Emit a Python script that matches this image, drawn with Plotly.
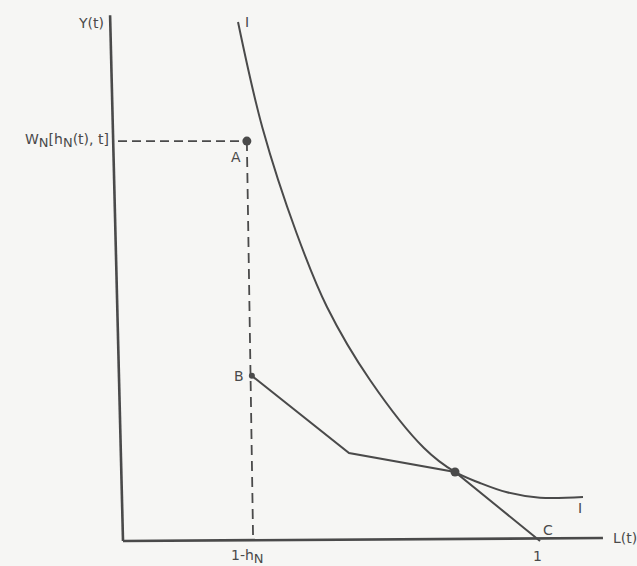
import plotly.graph_objects as go

# Indifference curve I
curve_x = [0.2758, 0.3345, 0.4161, 0.4892, 0.5923, 0.7218, 0.7962, 0.8561, 0.9209, 1.0000, 1.1031]
curve_y = [1.2446, 0.9904, 0.7386, 0.5612, 0.3861, 0.2230, 0.1655, 0.1391, 0.1168, 0.1038, 0.1055]

# Budget constraint B -> kink -> tangency -> C
budget_x = [0.309, 0.542, 0.7962, 1.000]
budget_y = [0.396, 0.211, 0.1655, 0.000]

# Point A and its dashed projections
A_x, A_y = 0.297, 0.959
foot_x = 0.312          # 1-h_N on the L axis
yaxis_at_A = -0.012

# Axes (slightly tilted as in the scan)
yaxis_line_x = [0.0, -0.031]
yaxis_line_y = [0.0, 1.261]
xaxis_line_x = [0.0, 1.151]
xaxis_line_y = [0.0, 0.007]

ink = "#4a4a4a"
bg = "#f6f6f4"
font = "DejaVu Sans, Liberation Sans, sans-serif"

fig = go.Figure()

# axes
fig.add_trace(go.Scatter(x=yaxis_line_x, y=yaxis_line_y, mode="lines",
                         line=dict(color=ink, width=2.6), hoverinfo="skip"))
fig.add_trace(go.Scatter(x=xaxis_line_x, y=xaxis_line_y, mode="lines",
                         line=dict(color=ink, width=2.6), hoverinfo="skip"))

# dashed lines
fig.add_trace(go.Scatter(x=[yaxis_at_A, A_x], y=[A_y, A_y], mode="lines",
                         line=dict(color=ink, width=1.8, dash="9px,5px"), hoverinfo="skip"))
fig.add_trace(go.Scatter(x=[A_x, foot_x], y=[A_y, 0.0], mode="lines",
                         line=dict(color=ink, width=1.8, dash="10px,6px"), hoverinfo="skip"))

# indifference curve
fig.add_trace(go.Scatter(x=curve_x, y=curve_y, mode="lines", line_shape="spline",
                         line=dict(color=ink, width=2, smoothing=1.0), hoverinfo="skip"))

# budget line
fig.add_trace(go.Scatter(x=budget_x, y=budget_y, mode="lines",
                         line=dict(color=ink, width=2), hoverinfo="skip"))

# points
fig.add_trace(go.Scatter(x=[A_x], y=[A_y], mode="markers",
                         marker=dict(color=ink, size=9), hoverinfo="skip"))
fig.add_trace(go.Scatter(x=[budget_x[0]], y=[budget_y[0]], mode="markers",
                         marker=dict(color=ink, size=6), hoverinfo="skip"))
fig.add_trace(go.Scatter(x=[budget_x[2]], y=[budget_y[2]], mode="markers",
                         marker=dict(color=ink, size=9), hoverinfo="skip"))

def lab(text, x, y, xanchor="center", yanchor="middle", size=14, xshift=0, yshift=0):
    fig.add_annotation(text=text, x=x, y=y, xref="x", yref="y", showarrow=False,
                       xanchor=xanchor, yanchor=yanchor, xshift=xshift, yshift=yshift,
                       font=dict(family=font, size=size, color=ink))

sub = "<sub><span style='font-size:13px'>N</span></sub>"
lab("Y(t)", yaxis_line_x[1], yaxis_line_y[1], xanchor="right", xshift=-4, yshift=-8)
lab("W" + sub + "[h" + sub + "(t), t]", yaxis_at_A, A_y, xanchor="right", xshift=-7, yshift=1)
lab("A", A_x, A_y, xshift=-11, yshift=-16)
lab("B", budget_x[0], budget_y[0], xshift=-13, yshift=0)
lab("C", budget_x[3], budget_y[3], xshift=8, yshift=11)
lab("I", curve_x[0], curve_y[0], xshift=9, yshift=0)
lab("I", curve_x[-1], curve_y[-1], xshift=-3, yshift=-11)
lab("L(t)", xaxis_line_x[1], xaxis_line_y[1], xanchor="left", xshift=8, yshift=0)
lab("1", 1.0, 0.0, xshift=-3, yshift=-15)
lab("1-h" + sub, foot_x, 0.0, xshift=-6, yshift=-16)

fig.update_layout(
    width=637, height=566,
    margin=dict(l=0, r=0, t=0, b=0),
    paper_bgcolor=bg, plot_bgcolor=bg,
    showlegend=False,
    xaxis=dict(range=[-0.295, 1.2326], visible=False, fixedrange=True),
    yaxis=dict(range=[-0.06, 1.2974], visible=False, fixedrange=True),
)

fig.write_html(
    "out.html",
    config={"displayModeBar": False},
    post_script="document.body.style.margin='0';document.body.style.background='" + bg + "';",
)
